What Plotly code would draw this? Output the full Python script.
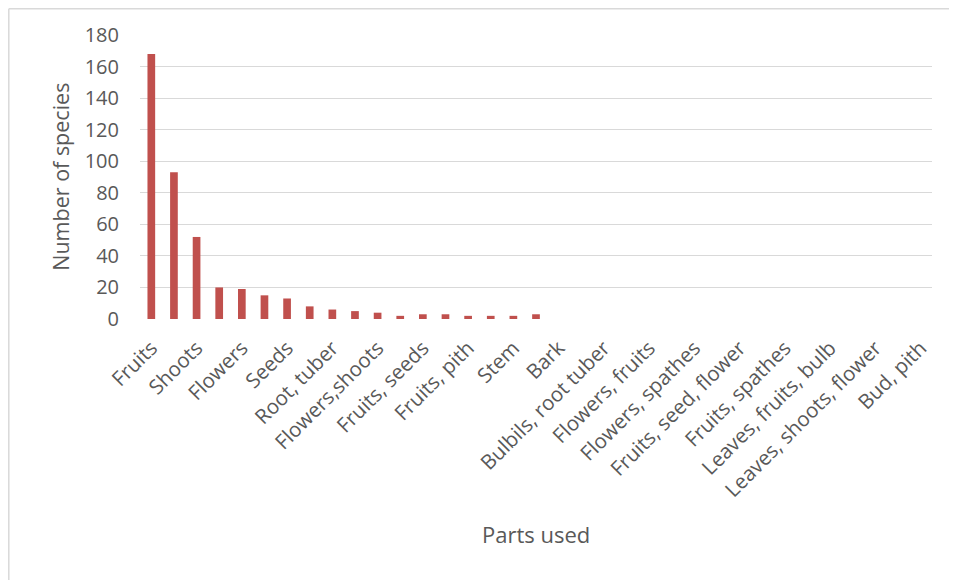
import plotly.graph_objects as go

# Values for all 35 categories (only every other category label is shown on the axis)
values = [168, 93, 52, 20, 19, 15, 13, 8, 6, 5, 4, 2, 3, 3, 2, 2, 2, 3,
          0, 0, 0, 0, 0, 0, 0, 0, 0, 0, 0, 0, 0, 0, 0, 0, 0]
shown_labels = ["Fruits", "Shoots", "Flowers", "Seeds", "Root, tuber", "Flowers,shoots",
                "Fruits, seeds", "Fruits, pith", "Stem", "Bark", "Bulbils, root tuber",
                "Flowers, fruits", "Flowers, spathes", "Fruits, seed, flower",
                "Fruits, spathes", "Leaves, fruits, bulb", "Leaves, shoots, flower",
                "Bud, pith"]
y_ticks = [0, 20, 40, 60, 80, 100, 120, 140, 160, 180]
x_title = "Parts used"
y_title = "Number of species"

OFF = 8  # page body margin offset
W, H = 957 - OFF, 580 - OFF
L, R, T, B = 140 - OFF, 25, 35 - OFF, 580 - 319.5
x_idx = list(range(len(values)))
tick_pos = x_idx[::2]

fig = go.Figure(go.Bar(x=x_idx, y=values, marker_color="#C0504D", marker_line_width=0, width=0.34))

font = "Open Sans, Noto Sans, sans-serif"
grey = "#595959"
fig.update_layout(
    width=W, height=H,
    margin=dict(l=L, r=R, t=T, b=B, autoexpand=False),
    paper_bgcolor="white", plot_bgcolor="white",
    showlegend=False,
    font=dict(family=font, color=grey),
    xaxis=dict(
        range=[-0.5, len(values) - 0.5],
        tickmode="array", tickvals=tick_pos, ticktext=shown_labels,
        tickangle=-45, tickfont=dict(size=20.5, color=grey),
        showgrid=False, zeroline=False, showline=False, ticks="",
        ticklabelstandoff=12,
    ),
    yaxis=dict(
        range=[0, 180], tickmode="array", tickvals=y_ticks,
        tickfont=dict(size=20, color=grey),
        showgrid=True, gridcolor="#D9D9D9", gridwidth=1,
        zeroline=False, showline=False, ticks="", ticklabelstandoff=20,
    ),
)

pw = W - L - R
ph = H - T - B
def px(x):
    return (x - OFF - L) / pw
def py(y):
    return 1 - (y - OFF - T) / ph

# Axis titles
fig.add_annotation(text=x_title, xref="paper", yref="paper", x=px(536), y=py(535),
                   showarrow=False, font=dict(size=22, color=grey), xanchor="center", yanchor="middle")
fig.add_annotation(text=y_title, xref="paper", yref="paper", x=px(61), y=py(177),
                   showarrow=False, textangle=-90, font=dict(size=21.5, color=grey),
                   xanchor="center", yanchor="middle")

# Light chart-area border (top and left edges visible in the reference)
fig.add_shape(type="line", xref="paper", yref="paper", x0=px(OFF + 0.8), x1=px(957 + 5),
              y0=py(OFF + 0.8), y1=py(OFF + 0.8), line=dict(color="#D9D9D9", width=1.5))
fig.add_shape(type="line", xref="paper", yref="paper", x0=px(OFF + 0.8), x1=px(OFF + 0.8),
              y0=py(OFF + 0.8), y1=py(585), line=dict(color="#D9D9D9", width=1.5))

fig.write_html("out.html")
